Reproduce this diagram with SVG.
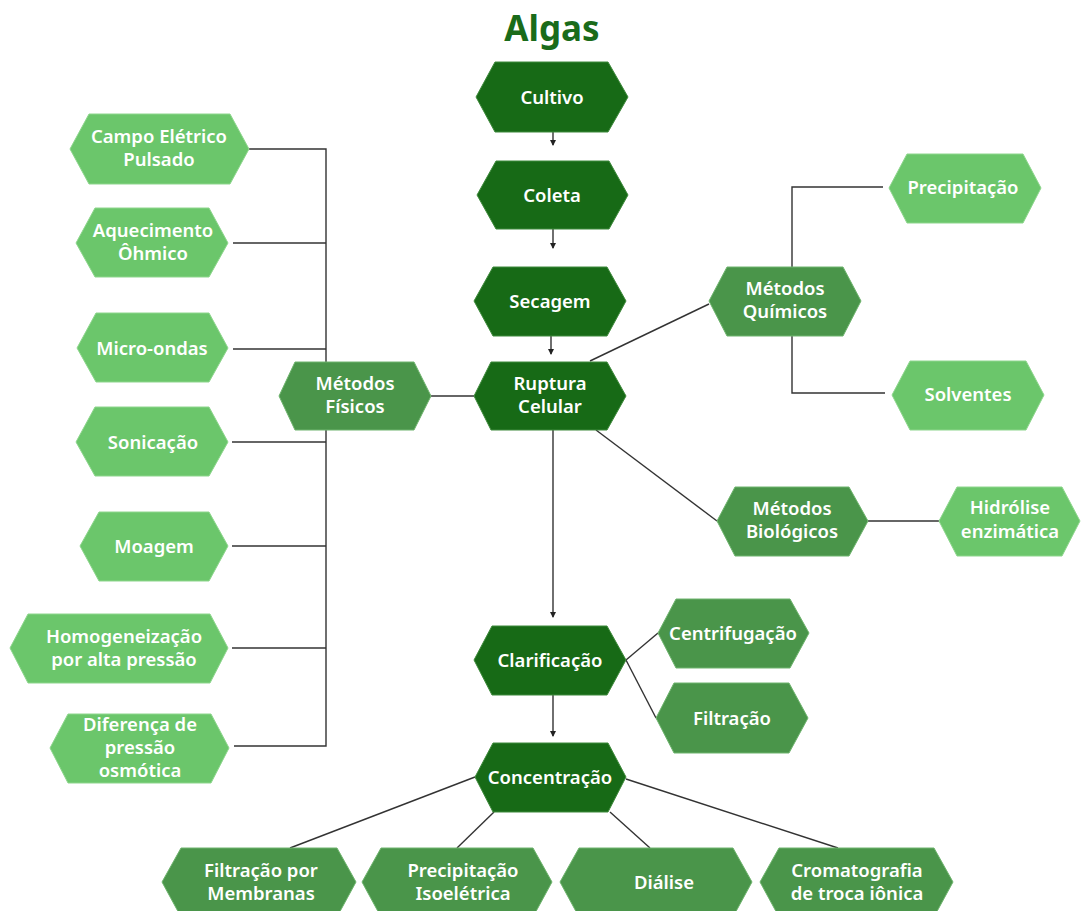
<svg xmlns="http://www.w3.org/2000/svg" width="1081" height="911" viewBox="0 0 1081 911">
<defs>
<style>
.d{fill:#176a16;stroke:#3f8a3c;stroke-width:1}
.m{fill:#4a954a;stroke:#6fb46e;stroke-width:1}
.l{fill:#6bc66b;stroke:#8ed68d;stroke-width:1}
text{font-family:"Noto Sans","Open Sans",sans-serif;font-weight:600;font-size:18.5px;fill:#ffffff;text-anchor:middle}
.title{font-size:35px;font-weight:700;fill:#1a6b1a}
.c{fill:none;stroke:#333333;stroke-width:1.4}
</style>
<marker id="ah" viewBox="0 0 6 6" refX="5" refY="3" markerWidth="6" markerHeight="6" markerUnits="userSpaceOnUse" orient="auto">
<path d="M0,0 L6,3 L0,6 z" fill="#222"/>
</marker>
</defs>
<rect width="1081" height="911" fill="#ffffff"/>
<text class="title" x="552" y="41">Algas</text>

<g id="connectors">
<line class="c" x1="553" y1="132" x2="553" y2="145" marker-end="url(#ah)"/>
<line class="c" x1="553" y1="229" x2="553" y2="248" marker-end="url(#ah)"/>
<line class="c" x1="551" y1="336" x2="551" y2="354" marker-end="url(#ah)"/>
<line class="c" x1="553" y1="430" x2="553" y2="617" marker-end="url(#ah)"/>
<line class="c" x1="553" y1="695" x2="553" y2="736" marker-end="url(#ah)"/>
<line class="c" x1="431" y1="396" x2="474" y2="396"/>
<polyline class="c" points="249,149 326,149 326,746 234,746"/>
<line class="c" x1="233" y1="243" x2="326" y2="243"/>
<line class="c" x1="233" y1="349" x2="326" y2="349"/>
<line class="c" x1="232" y1="442" x2="326" y2="442"/>
<line class="c" x1="232" y1="546" x2="326" y2="546"/>
<line class="c" x1="232" y1="648" x2="326" y2="648"/>
<line class="c" x1="590" y1="361" x2="709" y2="304"/>
<polyline class="c" points="792,267 792,187 883,187"/>
<polyline class="c" points="792,336 792,393 885,393"/>
<line class="c" x1="596" y1="430" x2="717" y2="521"/>
<line class="c" x1="868" y1="521" x2="939" y2="521"/>
<line class="c" x1="626" y1="660" x2="658" y2="633"/>
<line class="c" x1="626" y1="660" x2="656" y2="718"/>
<line class="c" x1="475" y1="777" x2="290" y2="848"/>
<line class="c" x1="494" y1="812" x2="457" y2="848"/>
<line class="c" x1="610" y1="812" x2="650" y2="848"/>
<line class="c" x1="626" y1="779" x2="838" y2="848"/>
</g>

<g id="cultivo"><polygon class="d" points="476,97 495,62 608,62 628,97 608,132 495,132"/><text x="552" y="104">Cultivo</text></g>
<g id="coleta"><polygon class="d" points="477,195 496,161 609,161 628,195 609,229 496,229"/><text x="552" y="202">Coleta</text></g>
<g id="secagem"><polygon class="d" points="474,301 493,267 607,267 626,301 607,336 493,336"/><text x="550" y="308">Secagem</text></g>
<g id="ruptura"><polygon class="d" points="474,396 491,362 607,362 626,396 607,430 491,430"/><text x="550" y="390">Ruptura</text><text x="550" y="413">Celular</text></g>
<g id="clarificacao"><polygon class="d" points="474,660 492,626 607,626 626,660 607,695 492,695"/><text x="550" y="667">Clarificação</text></g>
<g id="concentracao"><polygon class="d" points="475,777 493,743 608,743 626,777 608,812 493,812"/><text x="550" y="784">Concentração</text></g>

<g id="metodos-fisicos"><polygon class="m" points="279,396 295,362 414,362 431,396 414,430 295,430"/><text x="355" y="390">Métodos</text><text x="355" y="413">Físicos</text></g>
<g id="metodos-quimicos"><polygon class="m" points="709,301 727,267 843,267 861,301 843,336 727,336"/><text x="785" y="295">Métodos</text><text x="785" y="318">Químicos</text></g>
<g id="metodos-biologicos"><polygon class="m" points="717,521 735,487 849,487 868,521 849,556 735,556"/><text x="792" y="515">Métodos</text><text x="792" y="538">Biológicos</text></g>

<g id="campo-eletrico"><polygon class="l" points="70,149 89,114 230,114 249,149 230,184 89,184"/><text x="159" y="143">Campo Elétrico</text><text x="159" y="166">Pulsado</text></g>
<g id="aquecimento"><polygon class="l" points="76,243 95,208 209,208 228,243 209,277 95,277"/><text x="153" y="237">Aquecimento</text><text x="153" y="260">Ôhmico</text></g>
<g id="micro-ondas"><polygon class="l" points="77,348 96,313 209,313 228,348 209,382 96,382"/><text x="152" y="355">Micro-ondas</text></g>
<g id="sonicacao"><polygon class="l" points="76,442 95,407 209,407 228,442 209,476 95,476"/><text x="153" y="449">Sonicação</text></g>
<g id="moagem"><polygon class="l" points="80,546 99,512 209,512 228,546 209,581 99,581"/><text x="154" y="553">Moagem</text></g>
<g id="homogeneizacao"><polygon class="l" points="10,648 28,614 210,614 228,648 210,683 28,683"/><text x="124" y="643">Homogeneização</text><text x="124" y="666">por alta pressão</text></g>
<g id="diferenca"><polygon class="l" points="50,748 68,714 211,714 229,748 211,783 68,783"/><text x="140" y="731">Diferença de</text><text x="140" y="754">pressão</text><text x="140" y="777">osmótica</text></g>

<g id="precipitacao"><polygon class="l" points="889,188 907,154 1023,154 1041,188 1023,223 907,223"/><text x="963" y="194">Precipitação</text></g>
<g id="solventes"><polygon class="l" points="892,395 910,361 1026,361 1044,395 1026,430 910,430"/><text x="968" y="401">Solventes</text></g>
<g id="hidrolise"><polygon class="l" points="939,521 957,487 1062,487 1080,521 1062,556 957,556"/><text x="1010" y="514">Hidrólise</text><text x="1010" y="538">enzimática</text></g>

<g id="centrifugacao"><polygon class="m" points="658,633 676,599 790,599 809,633 790,668 676,668"/><text x="733" y="640">Centrifugação</text></g>
<g id="filtracao"><polygon class="m" points="656,718 674,683 789,683 808,718 789,753 674,753"/><text x="732" y="725">Filtração</text></g>

<g id="filtracao-membranas"><polygon class="m" points="162,882 181,848 337,848 356,882 337,917 181,917"/><text x="261" y="877">Filtração por</text><text x="261" y="900">Membranas</text></g>
<g id="precipitacao-isoeletrica"><polygon class="m" points="362,882 381,848 533,848 552,882 533,917 381,917"/><text x="463" y="877">Precipitação</text><text x="463" y="900">Isoelétrica</text></g>
<g id="dialise"><polygon class="m" points="560,882 579,848 733,848 752,882 733,917 579,917"/><text x="664" y="889">Diálise</text></g>
<g id="cromatografia"><polygon class="m" points="760,882 779,848 934,848 953,882 934,917 779,917"/><text x="857" y="877">Cromatografia</text><text x="857" y="900">de troca iônica</text></g>
</svg>
